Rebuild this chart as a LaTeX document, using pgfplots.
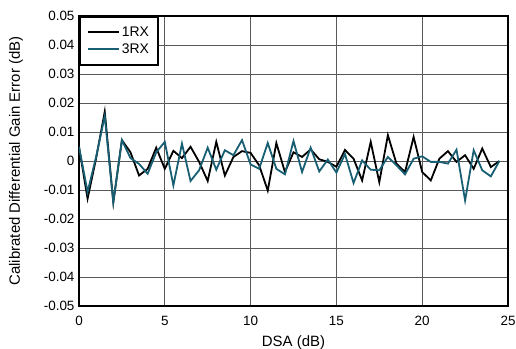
\documentclass[border=0pt]{standalone}
\usepackage{pgfplots}
\pgfplotsset{compat=1.18}
\usepackage{fontspec}
\setmainfont{Liberation Sans}
\definecolor{teal3}{RGB}{25,95,115}
\pgfplotstableread{
x y1 y3
0 0.0049 0.0049
0.5 -0.0130 -0.0107
1.0 0.0010 0.0015
1.5 0.0170 0.0155
2.0 -0.0142 -0.0142
2.5 0.0072 0.0072
3.0 0.0030 0.0010
3.5 -0.0050 -0.0010
4.0 -0.0027 -0.0044
4.5 0.0046 0.0030
5.0 -0.0027 0.0066
5.5 0.0035 -0.0084
6.0 0.0010 0.0060
6.5 0.0049 -0.0069
7.0 -0.0003 -0.0032
7.5 -0.0069 0.0046
8.0 0.0066 -0.0030
8.5 -0.0050 0.0037
9.0 0.0014 0.0020
9.5 0.0034 0.0072
10.0 0.0028 -0.0012
10.5 -0.0015 -0.0027
11.0 -0.0102 0.0062
11.5 0.0062 -0.0027
12.0 -0.0038 -0.0046
12.5 0.0030 0.0069
13.0 0.0014 -0.0038
13.5 0.0040 0.0046
14.0 0.0006 -0.0036
14.5 -0.0003 0.0005
15.0 -0.0020 -0.0040
15.5 0.0038 0.0024
16.0 0.0008 -0.0076
16.5 -0.0067 0.0002
17.0 0.0066 -0.0030
17.5 -0.0073 -0.0032
18.0 0.0089 0.0014
18.5 -0.0009 -0.0015
19.0 -0.0038 -0.0046
19.5 0.0083 0.0008
20.0 -0.0038 0.0016
20.5 -0.0067 -0.0003
21.0 0.0008 -0.0003
21.5 0.0034 -0.0009
22.0 -0.0003 0.0039
22.5 0.0020 -0.0136
23.0 -0.0027 0.0037
23.5 0.0043 -0.0032
24.0 -0.0021 -0.0053
24.5 0.0000 0.0000
}\datatable
\begin{document}
\begin{tikzpicture}
\begin{axis}[
  name=ax,
  scale only axis,
  width=429bp, height=290bp,
  xmin=0, xmax=25, ymin=-0.05, ymax=0.05,
  xtick={0,5,...,25},
  ytick={-0.05,-0.04,...,0.05},
  yticklabels={-0.05,-0.04,-0.03,-0.02,-0.01,0,0.01,0.02,0.03,0.04,0.05},
  scaled y ticks=false,
  /pgf/number format/assume math mode=true,
  tick label style={font=\fontsize{13.5}{15}\selectfont},
  xticklabel style={yshift=-7bp},
  yticklabel style={xshift=-1bp},
  xlabel={DSA (dB)},
  ylabel={Calibrated Differential Gain Error (dB)},
  every axis x label/.style={at={(rel axis cs:0.5,0)}, anchor=base, yshift=-40.5bp,
    font=\fontsize{15}{17}\selectfont},
  every axis y label/.style={at={(rel axis cs:0,0.5)}, anchor=center, xshift=-63bp,
    rotate=90, font=\fontsize{15}{17}\selectfont},
  grid=major,
  major grid style={draw=black!65, line width=0.7bp},
  axis line style={line width=1.9bp},
  tick style={draw=none},
  legend style={at={(0,1)}, anchor=north west, draw=black, line width=1.6bp,
    font=\fontsize{14}{16}\selectfont, inner xsep=7bp, inner ysep=8bp, row sep=2bp,
    legend cell align=left},
  legend image code/.code={\draw[#1, line width=2bp] (0bp,0bp) -- (31bp,0bp);},
]
\addplot[black, line width=1.8bp] table[x=x, y=y1] {\datatable};
\addlegendentry{1RX}
\addplot[teal3, line width=1.8bp] table[x=x, y=y3] {\datatable};
\addlegendentry{3RX}
\end{axis}
\pgfresetboundingbox
\useasboundingbox ([xshift=-79bp,yshift=-43bp]ax.south west) rectangle ([xshift=8bp,yshift=16bp]ax.north east);
\end{tikzpicture}
\end{document}
